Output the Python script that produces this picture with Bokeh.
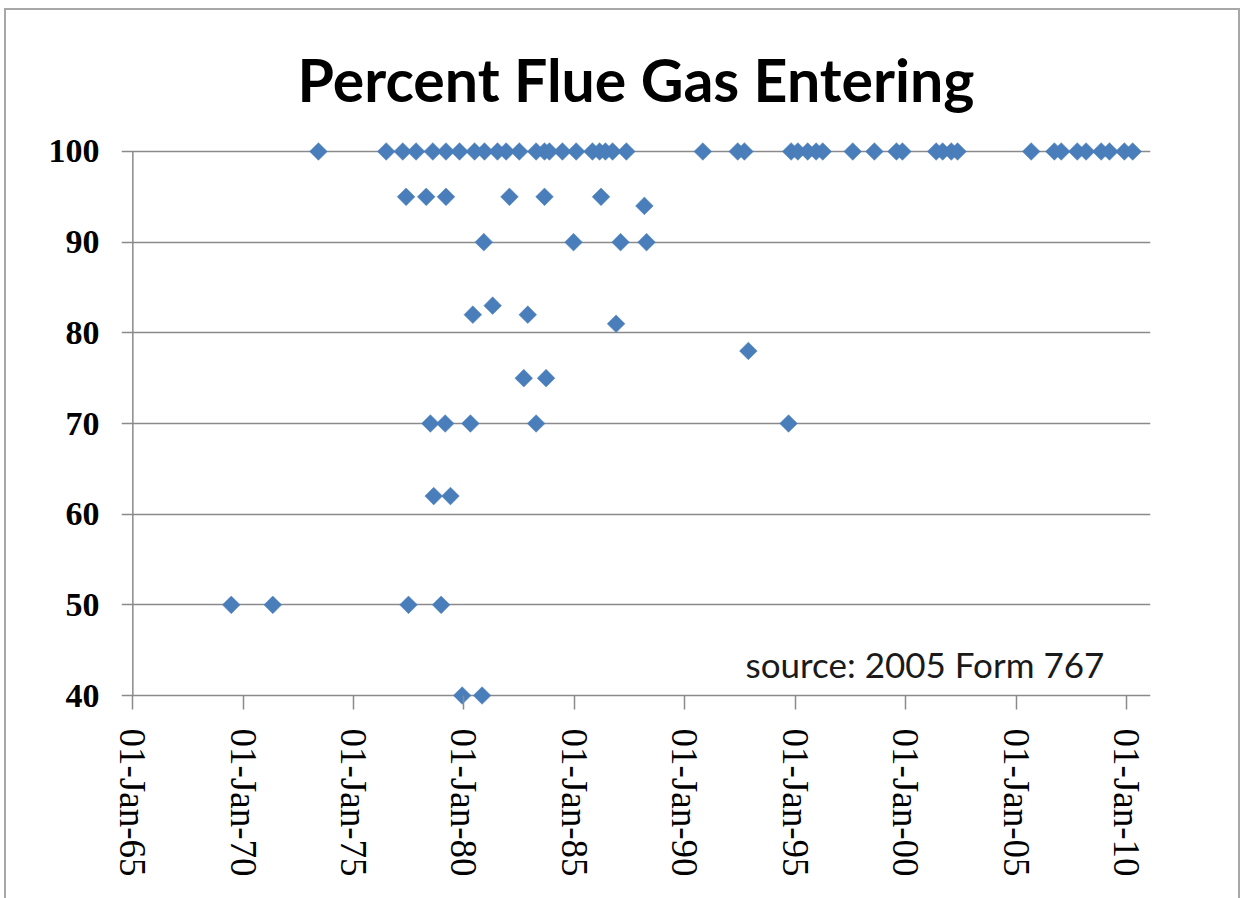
import math
import pandas as pd
from bokeh.plotting import figure
from bokeh.models import Range1d, FixedTicker, DatetimeTickFormatter, Label, ColumnDataSource
from bokeh.embed import file_html
from bokeh.resources import INLINE

# ---- data: in-service dates grouped by percent of flue gas entering ----
dates_100 = ["1973-05-29", "1976-06-23", "1977-03-24", "1977-10-30", "1978-08-03", "1979-03-09",
             "1979-10-19", "1980-06-24", "1980-12-05", "1981-07-08", "1981-11-28", "1982-07-04",
             "1983-04-08", "1983-08-25", "1983-11-14", "1984-06-16", "1985-01-30", "1985-10-26",
             "1986-02-21", "1986-05-29", "1986-09-24", "1987-05-10", "1990-10-26", "1992-05-25",
             "1992-09-13", "1994-10-26", "1995-02-14", "1995-07-26", "1995-12-13", "1996-04-01",
             "1997-08-10", "1998-08-03", "1999-08-03", "1999-11-10", "2001-05-21", "2001-09-05",
             "2002-01-26", "2002-05-10", "2005-09-09", "2006-09-27", "2007-01-19", "2007-10-11",
             "2008-03-05", "2008-11-10", "2009-03-27", "2009-11-28", "2010-04-15"]
dates_95 = ["1977-05-18", "1978-04-16", "1979-03-09", "1982-01-22", "1983-08-25", "1986-03-17"]
dates_94 = ["1988-03-03"]
dates_90 = ["1980-11-24", "1984-12-17", "1987-02-03", "1988-04-08"]
dates_83 = ["1981-04-19"]
dates_82 = ["1980-05-26", "1982-11-21"]
dates_81 = ["1986-11-21"]
dates_78 = ["1992-11-17"]
dates_75 = ["1982-09-16", "1983-09-20"]
dates_70 = ["1978-06-24", "1979-02-24", "1980-04-16", "1983-04-08", "1994-09-13"]
dates_62 = ["1978-08-18", "1979-05-22"]
dates_50 = ["1969-06-17", "1971-05-05", "1977-06-27", "1978-12-19"]
dates_40 = ["1979-12-02", "1980-10-26"]

groups = {100: dates_100, 95: dates_95, 94: dates_94, 90: dates_90, 83: dates_83, 82: dates_82,
          81: dates_81, 78: dates_78, 75: dates_75, 70: dates_70, 62: dates_62, 50: dates_50,
          40: dates_40}

x_tick_years = [1965, 1970, 1975, 1980, 1985, 1990, 1995, 2000, 2005, 2010]
y_ticks = [40, 50, 60, 70, 80, 90, 100]

title_text = "Percent Flue Gas Entering"
source_text = "source: 2005 Form 767"

# ---- build table ----
xs, ys = [], []
for pct, ds in groups.items():
    for d in ds:
        xs.append(pd.Timestamp(d))
        ys.append(pct)
src = ColumnDataSource(dict(x=xs, y=ys))


def ms(ts):
    return pd.Timestamp(ts).value / 1e6


def yr(f):
    base = int(math.floor(f))
    return ms(pd.Timestamp(f"{base}-01-01") + pd.Timedelta(days=(f - base) * 365.25))


p = figure(x_axis_type="datetime", output_backend="svg", toolbar_location=None,
           frame_width=1029, frame_height=568,
           min_border_left=115, min_border_right=88, min_border_top=131, min_border_bottom=189,
           x_range=Range1d(yr(1964.488), yr(2011.092)),
           y_range=Range1d(38.459, 101.101))

p.background_fill_color = "white"
p.border_fill_color = "white"
p.outline_line_color = None

# title
p.title.text = title_text
p.title.align = "center"
p.title.text_font = "Lato"
p.title.text_font_style = "bold"
p.title.text_font_size = "59px"
p.title.text_color = "black"
p.title.standoff = 54

# grid
p.xgrid.grid_line_color = None
p.ygrid.ticker = FixedTicker(ticks=y_ticks)
p.ygrid.grid_line_color = "#8a8a8a"
p.ygrid.grid_line_width = 1.5

# y axis
p.yaxis.ticker = FixedTicker(ticks=y_ticks)
p.yaxis.axis_line_color = None
p.yaxis.major_tick_in = 0
p.yaxis.major_tick_out = 0
p.yaxis.minor_tick_line_color = None
p.yaxis.major_label_standoff = 22
p.yaxis.major_label_text_font = "Liberation Serif"
p.yaxis.major_label_text_font_style = "bold"
p.yaxis.major_label_text_font_size = "34px"
p.yaxis.major_label_text_color = "black"

# x axis
p.xaxis.ticker = FixedTicker(ticks=[ms(f"{y}-01-01") for y in x_tick_years])
fmt = "%d-%b-%y"
p.xaxis.formatter = DatetimeTickFormatter(years=fmt, months=fmt, days=fmt, hours=fmt,
                                          minutes=fmt, seconds=fmt, milliseconds=fmt,
                                          microseconds=fmt, hourmin=fmt, minsec=fmt)
p.xaxis.axis_line_color = None
p.xaxis.major_tick_in = 14
p.xaxis.major_tick_out = 0
p.xaxis.major_tick_line_color = "#8a8a8a"
p.xaxis.major_tick_line_width = 1.5
p.xaxis.minor_tick_line_color = None
p.xaxis.major_label_orientation = "vertical"
p.xaxis.major_label_standoff = 19
p.xaxis.major_label_text_font = "Liberation Serif"
p.xaxis.major_label_text_font_size = "37px"
p.xaxis.major_label_text_color = "black"

# vertical axis line at 1965
p.segment(x0=[ms("1965-01-01")], y0=[40], x1=[ms("1965-01-01")], y1=[100],
          line_color="#8a8a8a", line_width=1.5)

# points
p.scatter(x="x", y="y", source=src, marker="square", angle=math.pi / 4, size=12.5,
          fill_color="#4a7ebb", line_color="#4a7ebb", line_width=0.5)

# source note
p.add_layout(Label(x=yr(1992.75), y=43.5, text=source_text, text_align="left",
                   text_baseline="alphabetic", text_font="Lato",
                   text_font_size="35px", text_color="#1a1a1a"))

p.styles = {"border": "2px solid #a8a8a8", "margin-left": "4px", "margin-top": "8px"}

open("out.html", "w").write(file_html(p, INLINE))
